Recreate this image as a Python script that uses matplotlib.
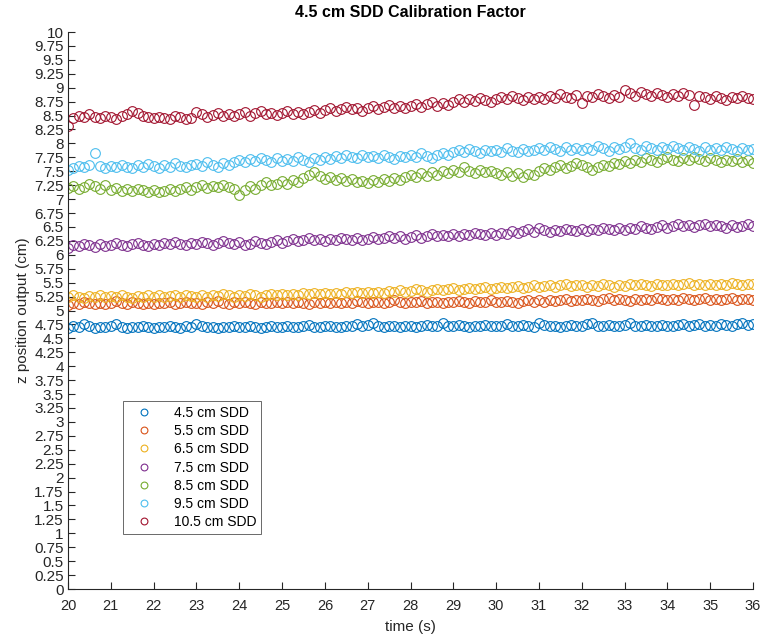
import numpy as np
import matplotlib
matplotlib.use("Agg")
import matplotlib.pyplot as plt

plt.rcParams['font.family'] = ['Liberation Sans', 'DejaVu Sans']

# Sampling: 8 samples per second from 20 s to 36 s
t_start, t_stop, rate_hz = 20.0, 36.0, 8
time_s = np.linspace(t_start, t_stop, int((t_stop - t_start) * rate_hz) + 1)

labels = ["4.5 cm SDD", "5.5 cm SDD", "6.5 cm SDD", "7.5 cm SDD",
          "8.5 cm SDD", "9.5 cm SDD", "10.5 cm SDD"]

z_45 = [
    4.69, 4.73, 4.70, 4.76, 4.72, 4.69, 4.71, 4.70,
    4.72, 4.75, 4.70, 4.69, 4.71, 4.70, 4.72, 4.71,
    4.69, 4.71, 4.70, 4.72, 4.71, 4.69, 4.73, 4.71,
    4.75, 4.72, 4.70, 4.71, 4.69, 4.71, 4.70, 4.72,
    4.71, 4.70, 4.72, 4.71, 4.69, 4.71, 4.72, 4.70,
    4.71, 4.73, 4.71, 4.70, 4.72, 4.74, 4.71, 4.70,
    4.72, 4.73, 4.71, 4.70, 4.72, 4.73, 4.76, 4.72,
    4.74, 4.77, 4.72, 4.71, 4.73, 4.72, 4.70, 4.72,
    4.72, 4.71, 4.73, 4.74, 4.72, 4.73, 4.77, 4.73,
    4.72, 4.74, 4.73, 4.71, 4.73, 4.72, 4.74, 4.73,
    4.72, 4.73, 4.75, 4.73, 4.72, 4.74, 4.73, 4.71,
    4.78, 4.74, 4.72, 4.73, 4.71, 4.73, 4.74, 4.72,
    4.73, 4.75, 4.77, 4.73, 4.72, 4.74, 4.73, 4.72,
    4.74, 4.78, 4.73, 4.72, 4.74, 4.73, 4.72, 4.74,
    4.73, 4.72, 4.74, 4.75, 4.73, 4.74, 4.76, 4.73,
    4.74, 4.73, 4.75, 4.74, 4.73, 4.75, 4.78, 4.74,
    4.75,
]

z_55 = [
    5.10, 5.14, 5.12, 5.16, 5.13, 5.11, 5.14, 5.12,
    5.13, 5.17, 5.14, 5.12, 5.15, 5.13, 5.11, 5.14,
    5.12, 5.14, 5.13, 5.15, 5.12, 5.14, 5.16, 5.13,
    5.14, 5.12, 5.15, 5.13, 5.17, 5.14, 5.12, 5.15,
    5.13, 5.15, 5.14, 5.12, 5.16, 5.14, 5.13, 5.15,
    5.14, 5.16, 5.13, 5.15, 5.14, 5.12, 5.15, 5.14,
    5.16, 5.14, 5.15, 5.13, 5.16, 5.14, 5.17, 5.15,
    5.14, 5.16, 5.15, 5.13, 5.16, 5.18, 5.15, 5.14,
    5.16, 5.15, 5.17, 5.14, 5.16, 5.15, 5.13, 5.16,
    5.15, 5.17, 5.16, 5.14, 5.17, 5.15, 5.16, 5.18,
    5.16, 5.15, 5.17, 5.16, 5.14, 5.17, 5.19, 5.16,
    5.18, 5.16, 5.19, 5.17, 5.18, 5.20, 5.17, 5.19,
    5.18, 5.21, 5.19, 5.17, 5.20, 5.22, 5.18, 5.20,
    5.19, 5.17, 5.20, 5.18, 5.21, 5.19, 5.22, 5.20,
    5.18, 5.21, 5.19, 5.22, 5.20, 5.18, 5.21, 5.23,
    5.19, 5.21, 5.18, 5.20, 5.22, 5.19, 5.21, 5.20,
    5.19,
]

z_65 = [
    5.24, 5.27, 5.25, 5.23, 5.26, 5.24, 5.27, 5.25,
    5.26, 5.24, 5.27, 5.25, 5.23, 5.26, 5.24, 5.27,
    5.25, 5.27, 5.24, 5.26, 5.28, 5.25, 5.27, 5.26,
    5.24, 5.27, 5.25, 5.28, 5.26, 5.30, 5.27, 5.25,
    5.28, 5.26, 5.29, 5.27, 5.25, 5.28, 5.30, 5.27,
    5.29, 5.27, 5.30, 5.28, 5.31, 5.29, 5.32, 5.30,
    5.31, 5.29, 5.32, 5.30, 5.33, 5.31, 5.34, 5.32,
    5.33, 5.31, 5.34, 5.32, 5.35, 5.33, 5.36, 5.34,
    5.35, 5.38, 5.36, 5.34, 5.37, 5.39, 5.36, 5.38,
    5.40, 5.37, 5.39, 5.41, 5.38, 5.40, 5.42, 5.39,
    5.41, 5.43, 5.40, 5.42, 5.44, 5.41, 5.43, 5.45,
    5.42, 5.44, 5.46, 5.43, 5.45, 5.47, 5.44, 5.46,
    5.45, 5.43, 5.46, 5.44, 5.47, 5.45, 5.43, 5.46,
    5.44, 5.47, 5.45, 5.48, 5.46, 5.44, 5.47, 5.45,
    5.46, 5.48, 5.45, 5.47, 5.49, 5.46, 5.48, 5.45,
    5.47, 5.45, 5.48, 5.46, 5.49, 5.47, 5.45, 5.48,
    5.47,
]

z_75 = [
    6.13, 6.18, 6.15, 6.20, 6.17, 6.14, 6.19, 6.16,
    6.18, 6.21, 6.17, 6.15, 6.19, 6.22, 6.18, 6.16,
    6.20, 6.17, 6.21, 6.19, 6.23, 6.20, 6.18, 6.22,
    6.19, 6.23, 6.21, 6.18, 6.22, 6.25, 6.21, 6.19,
    6.23, 6.17, 6.20, 6.24, 6.21, 6.19, 6.23, 6.26,
    6.22, 6.25, 6.28, 6.24, 6.27, 6.30, 6.26, 6.28,
    6.25, 6.29, 6.27, 6.31, 6.28, 6.26, 6.30, 6.27,
    6.29, 6.32, 6.28, 6.31, 6.34, 6.30, 6.33, 6.29,
    6.32, 6.35, 6.31, 6.34, 6.37, 6.33, 6.36, 6.34,
    6.37, 6.34, 6.38, 6.36, 6.40, 6.37, 6.35, 6.39,
    6.36, 6.40, 6.38, 6.42, 6.39, 6.43, 6.46, 6.41,
    6.48, 6.44, 6.41, 6.45, 6.43, 6.47, 6.44, 6.42,
    6.46, 6.43, 6.47, 6.45, 6.49, 6.46, 6.44, 6.48,
    6.45, 6.49, 6.47, 6.51, 6.48, 6.46, 6.50, 6.53,
    6.49, 6.52, 6.56, 6.51, 6.54, 6.50, 6.53, 6.55,
    6.51, 6.54, 6.52, 6.49, 6.53, 6.50, 6.52, 6.55,
    6.52,
]

z_85 = [
    7.20, 7.24, 7.18, 7.22, 7.28, 7.23, 7.19, 7.25,
    7.16, 7.20, 7.14, 7.18, 7.15, 7.19, 7.16, 7.13,
    7.17, 7.12, 7.15, 7.19, 7.14, 7.18, 7.21, 7.17,
    7.22, 7.26, 7.20, 7.24, 7.21, 7.25, 7.22, 7.19,
    7.08, 7.16, 7.23, 7.19, 7.26, 7.30, 7.25, 7.28,
    7.32, 7.28, 7.34, 7.30, 7.38, 7.44, 7.48, 7.42,
    7.36, 7.40, 7.34, 7.38, 7.32, 7.36, 7.30, 7.33,
    7.29, 7.34, 7.31, 7.36, 7.32, 7.38, 7.35, 7.40,
    7.44, 7.40, 7.46, 7.42, 7.48, 7.44, 7.50, 7.46,
    7.52, 7.48, 7.58, 7.50, 7.46, 7.52, 7.48, 7.51,
    7.47, 7.44, 7.49, 7.42, 7.46, 7.40, 7.45, 7.43,
    7.50, 7.55, 7.52, 7.58, 7.62, 7.56, 7.60, 7.64,
    7.61, 7.57, 7.52, 7.58, 7.62, 7.59, 7.65, 7.63,
    7.68, 7.65, 7.71, 7.67, 7.73, 7.70, 7.66, 7.72,
    7.75, 7.71, 7.68, 7.74, 7.70, 7.76, 7.72, 7.69,
    7.73, 7.70, 7.66, 7.71, 7.68, 7.72, 7.67, 7.70,
    7.65,
]

z_95 = [
    7.52, 7.56, 7.60, 7.58, 7.62, 7.83, 7.59, 7.55,
    7.60, 7.57, 7.62, 7.58, 7.55, 7.61, 7.58, 7.63,
    7.59, 7.56, 7.62, 7.58, 7.64, 7.60, 7.57, 7.61,
    7.63, 7.59, 7.66, 7.62, 7.58, 7.64, 7.61, 7.67,
    7.70, 7.66, 7.72, 7.68, 7.74, 7.70, 7.67, 7.73,
    7.69, 7.72, 7.68, 7.75, 7.71, 7.67, 7.73, 7.70,
    7.76, 7.72, 7.78, 7.74, 7.80, 7.76, 7.73, 7.79,
    7.75, 7.78, 7.74, 7.80, 7.76, 7.72, 7.78, 7.75,
    7.79, 7.76, 7.82, 7.78, 7.74, 7.80, 7.83, 7.79,
    7.85, 7.88, 7.84, 7.90, 7.86, 7.83, 7.89, 7.86,
    7.88, 7.85, 7.91, 7.87, 7.84, 7.90, 7.86, 7.89,
    7.92, 7.88, 7.94, 7.90, 7.87, 7.93, 7.89, 7.91,
    7.88, 7.92, 7.89, 7.95, 7.91, 7.87, 7.93, 7.90,
    7.94, 8.01, 7.92, 7.89, 7.95, 7.91, 7.88, 7.94,
    7.90, 7.96, 7.92, 7.89, 7.94, 7.90, 7.87, 7.93,
    7.89, 7.92, 7.88, 7.94, 7.90, 7.87, 7.91, 7.89,
    7.90,
]

z_105 = [
    8.32, 8.46, 8.50, 8.47, 8.52, 8.48, 8.45, 8.50,
    8.47, 8.44, 8.49, 8.52, 8.58, 8.55, 8.50, 8.47,
    8.45, 8.48, 8.46, 8.44, 8.49, 8.47, 8.43, 8.46,
    8.56, 8.52, 8.48, 8.51, 8.55, 8.50, 8.53, 8.49,
    8.52, 8.56, 8.50, 8.54, 8.58, 8.52, 8.55, 8.51,
    8.55, 8.58, 8.53, 8.57, 8.52, 8.56, 8.60, 8.55,
    8.60, 8.64, 8.58, 8.62, 8.66, 8.61, 8.64, 8.59,
    8.63, 8.67, 8.62, 8.65, 8.69, 8.64, 8.68, 8.63,
    8.67, 8.71, 8.66, 8.70, 8.74, 8.68, 8.72, 8.69,
    8.75, 8.79, 8.74, 8.80, 8.76, 8.82, 8.78, 8.75,
    8.80, 8.84, 8.79, 8.86, 8.82, 8.78, 8.83, 8.80,
    8.84, 8.80, 8.86, 8.82, 8.88, 8.84, 8.81, 8.87,
    8.72, 8.86, 8.83, 8.89, 8.85, 8.82, 8.87, 8.84,
    8.96, 8.90, 8.86, 8.92, 8.88, 8.85, 8.90, 8.87,
    8.84, 8.89, 8.85, 8.91, 8.87, 8.69, 8.86, 8.83,
    8.80, 8.85, 8.82, 8.78, 8.84, 8.81, 8.86, 8.82,
    8.79,
]

series = [z_45, z_55, z_65, z_75, z_85, z_95, z_105]
colors = ["#0072BD", "#D95319", "#EDB120", "#7E2F8E",
          "#77AC30", "#4DBEEE", "#A2142F"]

y_ticks = np.arange(0, 10.001, 0.25)
x_ticks = np.arange(20, 37, 1)

ink = "#262626"

fig = plt.figure(figsize=(7.61, 6.38), dpi=100)
ax = fig.add_axes([0.0894, 0.0768, 0.9001, 0.8730])

for vals, col, lab in zip(series, colors, labels):
    ax.plot(time_s, vals, linestyle="none", marker="o", markersize=7.0,
            markerfacecolor="none", markeredgecolor=col,
            markeredgewidth=0.8, label=lab)

ax.set_xlim(20, 36)
ax.set_ylim(0, 10)
ax.set_xticks(x_ticks)
ax.set_yticks(y_ticks)
ax.set_yticklabels([f"{v:g}" for v in y_ticks])
ax.set_xticklabels([f"{v:g}" for v in x_ticks])

for side in ("top", "right"):
    ax.spines[side].set_visible(False)
for side in ("left", "bottom"):
    ax.spines[side].set_color(ink)
    ax.spines[side].set_linewidth(0.8)

ax.tick_params(axis="both", direction="in", length=5, width=0.8, colors=ink)
ax.tick_params(axis="y", labelsize=11, pad=3)
ax.tick_params(axis="x", labelsize=10.5, pad=7)

ax.set_xlabel("time (s)", fontsize=11, color=ink, labelpad=5)
ax.set_ylabel("z position output (cm)", fontsize=11, color=ink, labelpad=3)
ax.set_title("4.5 cm SDD Calibration Factor", fontsize=11.5,
             fontweight="bold", color="black", pad=11)

leg = ax.legend(loc="lower left", bbox_to_anchor=(0.080, 0.099),
                borderaxespad=0, fontsize=10, markerscale=0.7,
                frameon=True, fancybox=False, edgecolor=ink,
                labelspacing=0.3, handlelength=2.4, handletextpad=0.9,
                borderpad=0.35)
leg.get_frame().set_linewidth(0.6)
for txt in leg.get_texts():
    txt.set_color("black")

fig.savefig("out.png", dpi=100, facecolor="white")
